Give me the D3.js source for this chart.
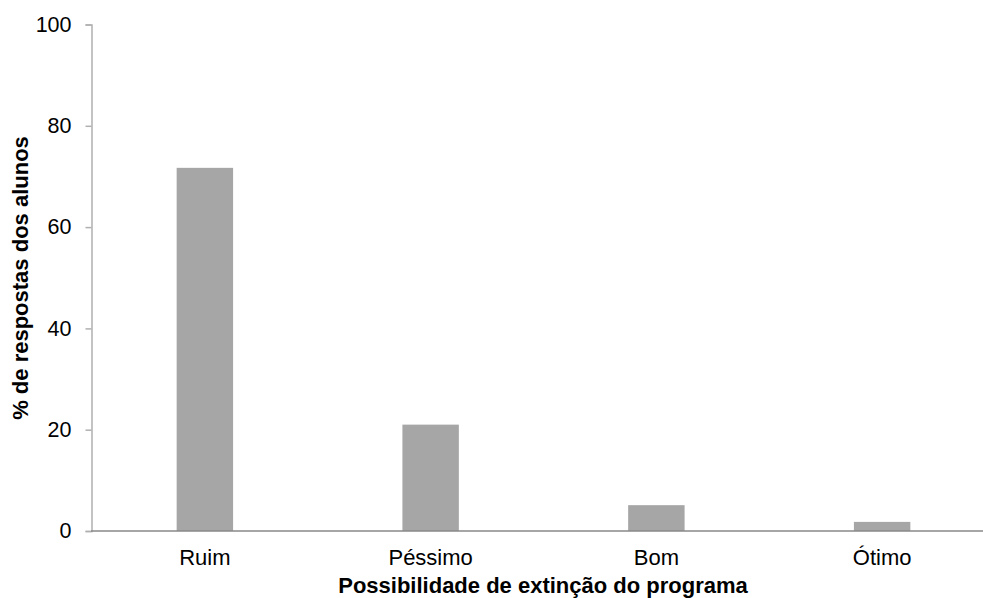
<!DOCTYPE html>
<meta charset="utf-8">
<script src="https://d3js.org/d3.v7.min.js"></script>
<style>
    body { margin: 0; background: #fff; }
    text { font-family: "Liberation Sans", Arial, sans-serif; fill: #000; }
</style>
<div id="my_dataviz"></div>
<script>
    var categories = ["Ruim", "Péssimo", "Bom", "Ótimo"];
    var values = [71.7, 21.0, 5.1, 1.8];
    var yTicks = [0, 20, 40, 60, 80, 100];

    var W = 983, H = 598;
    var svg = d3.select("#my_dataviz")
        .append("svg")
        .attr("width", W)
        .attr("height", H);

    var x = d3.scaleBand()
        .domain(categories)
        .range([92, 995])
        .paddingInner(0.75)
        .paddingOuter(0.375);

    var y = d3.scaleLinear()
        .domain([0, 100])
        .range([531, 24.5]);

    // bars
    svg.append("g")
        .selectAll("rect")
        .data(categories)
        .enter()
        .append("rect")
        .attr("x", function (d) { return x(d); })
        .attr("width", x.bandwidth())
        .attr("y", function (d, i) { return y(values[i]); })
        .attr("height", function (d, i) { return y(0) - y(values[i]); })
        .style("fill", "#a6a6a6");

    // Y axis
    var yAxis = svg.append("g")
        .attr("transform", "translate(91.5,0)")
        .call(d3.axisLeft(y).tickValues(yTicks).tickSize(6).tickPadding(14));
    yAxis.select(".domain").attr("stroke", "#b0b0b0").attr("stroke-width", 1.5);
    yAxis.selectAll(".tick line").attr("stroke", "#b0b0b0").attr("stroke-width", 1.5);
    yAxis.selectAll("text").style("font-size", "21.5px").style("font-family", "Liberation Sans, Arial, sans-serif");

    // X axis
    var xAxis = svg.append("g")
        .attr("transform", "translate(0," + y(0) + ")")
        .call(d3.axisBottom(x).tickSize(0).tickPadding(18));
    xAxis.select(".domain").attr("stroke", "#888").attr("stroke-width", 1.5)
        .attr("d", "M91,0H" + W);
    xAxis.selectAll("text").style("font-size", "22px").style("font-family", "Liberation Sans, Arial, sans-serif");

    // labels
    svg.append("text")
        .attr("x", 543)
        .attr("y", 593)
        .style("text-anchor", "middle")
        .style("font-weight", "bold")
        .style("font-size", "22px")
        .text("Possibilidade de extinção do programa");

    svg.append("text")
        .attr("transform", "translate(28,278) rotate(-90)")
        .style("text-anchor", "middle")
        .style("font-weight", "bold")
        .style("font-size", "22px")
        .text("% de respostas dos alunos");
</script>
